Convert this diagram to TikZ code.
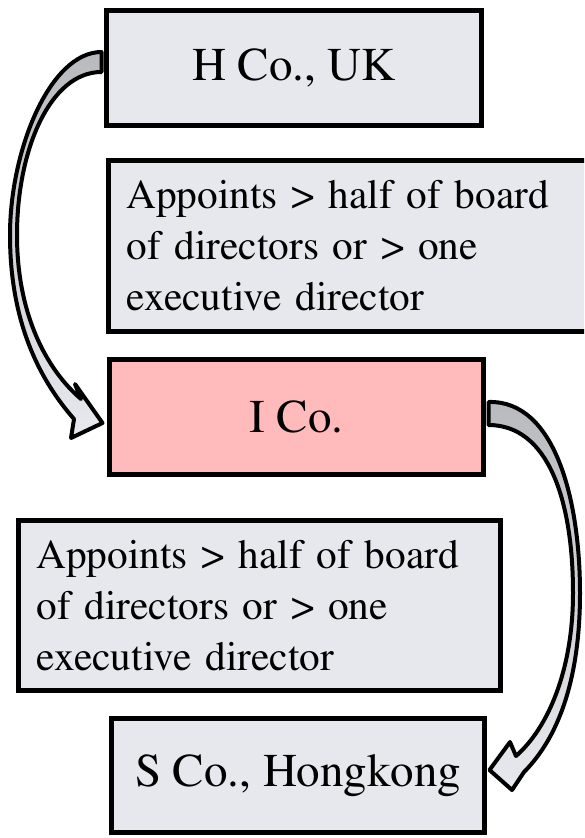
\documentclass[tikz,border=0pt]{standalone}
\usepackage[T1]{fontenc}
\usepackage{mathptmx}
\usetikzlibrary{calc}
\definecolor{boxgrey}{RGB}{231,232,238}
\definecolor{boxpink}{RGB}{255,187,187}
\definecolor{arrowdark}{RGB}{184,186,190}
\definecolor{arrowlight}{RGB}{232,233,238}
\tikzset{
  company/.style={
    draw=black,
    line width=5pt,
    fill=boxgrey,
    minimum width=375pt,
    minimum height=115pt,
    inner sep=0pt,
    font=\fontsize{47}{56}\selectfont
  },
  rule-box/.style={
    draw=black,
    line width=5pt,
    fill=boxgrey,
    anchor=west,
    minimum height=171pt,
    inner xsep=18.5pt,
    text width=445pt,
    align=left,
    font=\fontsize{41.3}{51}\selectfont
  },
  bent-arrow/.style={
    draw=black,
    line width=4pt,
    line join=round,
    top color=arrowdark,
    bottom color=arrowlight
  },
}

\begin{document}
\begin{tikzpicture}[x=1pt,y=-1pt]

  \useasboundingbox (0,0) rectangle (584,838);
  \clip (0,0) rectangle (584,838);

  % companies
  \node[company] (hco) at (294,68) {H Co., UK};
  \node[company, fill=boxpink, minimum width=374pt] (ico) at (296.5,417) {I Co.};
  \node[company, minimum width=373pt, minimum height=114pt] (sco) at (298,775.5) {S Co., Hongkong};

  % conditions
  \node[rule-box] (cond-h) at (105.5,246) {Appoints > half of board\\of directors or > one\\executive director};
  \node[rule-box, minimum height=170pt] (cond-i) at (15.5,605.5) {Appoints > half of board\\of directors or > one\\executive director};

  % curved arrows
  \path[bent-arrow] ($(hco.west)+(-2.5,-16)$)
    .. controls (50,52) and (10,150) .. (10,235)
    .. controls (10,320) and (38,378) .. (74,419)
    -- (71,438) -- ($(ico.west)+(-4.5,6)$) -- (75,384) -- (81,399)
    .. controls (47,370) and (17,315) .. (17,235)
    .. controls (17,150) and (50,72) .. ($(hco.west)+(-2.5,4)$) -- cycle;

  \path[bent-arrow] ($(ico.east)+(2.5,-15)$)
    .. controls (555,400) and (580,500) .. (580,593)
    .. controls (580,680) and (558,738) .. (524,772)
    -- (512,790) -- ($(sco.east)+(2.5,-5.5)$) -- (510,742) -- (516,756)
    .. controls (548,728) and (573,670) .. (573,593)
    .. controls (573,500) and (548,425) .. ($(ico.east)+(2.5,8)$) -- cycle;

\end{tikzpicture}
\end{document}
